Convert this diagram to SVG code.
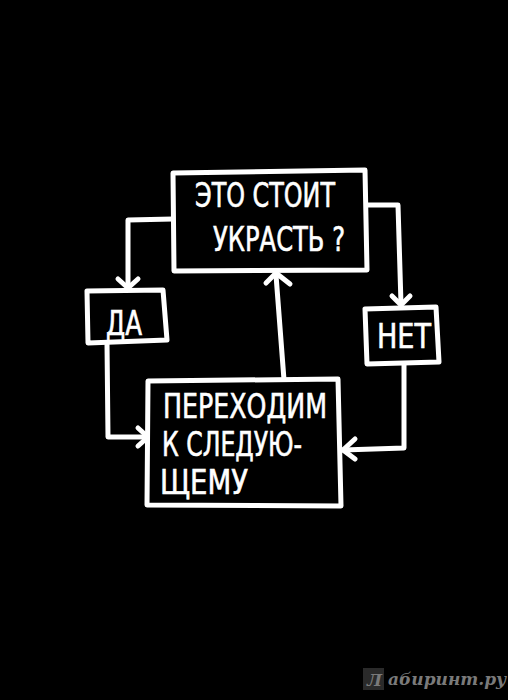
<svg xmlns="http://www.w3.org/2000/svg" width="508" height="700" viewBox="0 0 508 700">
<style>
.ln{fill:none;stroke:#fff;stroke-width:5;stroke-linejoin:round;stroke-linecap:round}
.box{fill:#000;stroke:#fff;stroke-width:5;stroke-linejoin:round}
.t{fill:#fff;stroke:#fff;stroke-width:0.6;font-family:"Liberation Sans Narrow","DejaVu Sans Condensed",sans-serif;font-size:33px}
.wm{fill:#7a7a7a;font-family:"DejaVu Serif","Liberation Serif",serif;font-weight:bold;font-style:italic;font-size:17px}
</style>
<rect width="508" height="700" fill="#000"/>
<g id="connectors">
<path class="ln" d="M173,219 L128,220 L128,287"/>
<path class="ln" d="M118,279 L128,288 L138,279"/>
<path class="ln" d="M367,205 L398,205 L401,304"/>
<path class="ln" d="M392,296 L401,305 L410,296"/>
<path class="ln" d="M107,343 L108,437 L147,437"/>
<path class="ln" d="M138,428 L148,437 L138,446"/>
<path class="ln" d="M404,364 L404,448 L343,450"/>
<path class="ln" d="M355,439 L343,450 L355,459"/>
<path class="ln" d="M284,380 L276,275"/>
<path class="ln" d="M266,283 L276,273 L290,284"/>
</g>
<g id="node-top">
<path class="box" d="M173,173 L365,170 L367,270 L174,271 Z"/>
<text class="t" x="195" y="207" textLength="140" lengthAdjust="spacingAndGlyphs">ЭТО СТОИТ</text>
<text class="t" x="213" y="251" textLength="132" lengthAdjust="spacingAndGlyphs">УКРАСТЬ ?</text>
</g>
<g id="node-da">
<path class="box" d="M87,291 L163,290 L167,340 L88,343 Z"/>
<text class="t" x="106" y="335" textLength="36" lengthAdjust="spacingAndGlyphs">ДА</text>
</g>
<g id="node-net">
<path class="box" d="M365,309 L436,307 L439,362 L367,364 Z"/>
<text class="t" x="377" y="348" textLength="54" lengthAdjust="spacingAndGlyphs">НЕТ</text>
</g>
<g id="node-main">
<path class="box" d="M148,381 L338,379 L341,506 L147,505 Z"/>
<text class="t" x="163" y="418" textLength="164" lengthAdjust="spacingAndGlyphs">ПЕРЕХОДИМ</text>
<text class="t" x="162" y="456" textLength="140" lengthAdjust="spacingAndGlyphs">К СЛЕДУЮ-</text>
<text class="t" x="160" y="494" textLength="88" lengthAdjust="spacingAndGlyphs">ЩЕМУ</text>
</g>
<g id="watermark">
<rect x="363" y="668" width="21" height="22" fill="#2a2a2a"/>
<text class="wm" x="367" y="686" fill="#444">Л</text>
<text class="wm" x="388" y="685">абиринт.ру</text>
</g>
</svg>
